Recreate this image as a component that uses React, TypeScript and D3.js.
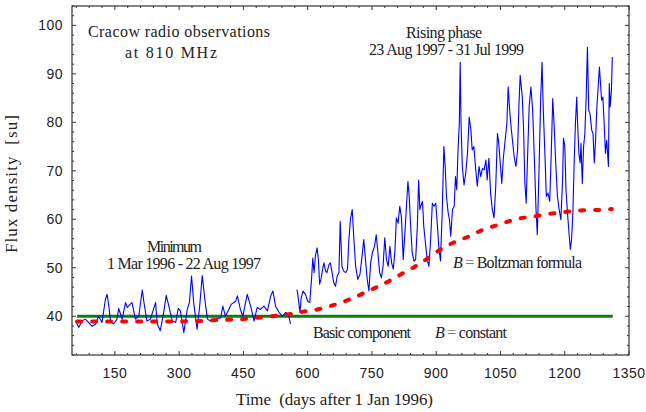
import * as d3 from 'd3';

// Cracow 810 MHz daily flux, [day after 1 Jan 1996, flux su]
const minimumPhase: [number, number][] = [
  [58, 39.0], [66, 37.7], [73, 39.0], [81, 39.4], [89, 38.7], [97, 37.9], [105, 38.4], [112, 40.0],
  [120, 38.7], [128, 43.5], [132, 44.5], [136, 42.1], [140, 39.0], [147, 38.4], [155, 39.4], [159, 41.6],
  [167, 39.4], [175, 42.8], [179, 41.8], [186, 42.5], [190, 42.8], [198, 39.4], [206, 40.1], [214, 45.4],
  [218, 42.8], [225, 39.0], [233, 39.4], [245, 42.8], [249, 38.4], [256, 37.0], [264, 40.8], [270, 44.3],
  [276, 42.1], [284, 39.0], [292, 38.7], [298, 41.6], [303, 41.1], [311, 36.6], [319, 41.4], [324, 42.8],
  [329, 48.3], [334, 42.8], [342, 37.3], [348, 42.1], [354, 48.4], [360, 43.5], [366, 39.4], [373, 39.0],
  [385, 39.4], [397, 39.7], [402, 42.1], [408, 40.0], [416, 41.4], [422, 42.5], [432, 43.1], [436, 44.2],
  [443, 41.4], [449, 40.0], [455, 42.8], [459, 44.5], [467, 42.1], [475, 39.0], [482, 41.8], [490, 41.4],
  [498, 42.1], [506, 41.1], [514, 44.2], [519, 45.2], [525, 42.1], [533, 40.8], [541, 40.0], [549, 40.8],
  [556, 40.0], [560, 38.4],
];

const risingPhase: [number, number][] = [
  [575, 45.5], [577, 44.5], [582, 40.8], [585, 43.8], [589, 45.2], [595, 44.5], [600, 43.1], [605, 42.8],
  [609, 47.6], [612, 52.0], [615, 49.0], [618, 52.4], [622, 54.1], [625, 51.7], [628, 46.6], [631, 47.6],
  [635, 49.7], [638, 51.0], [642, 49.3], [645, 49.0], [650, 50.7], [653, 51.0], [657, 49.0], [661, 46.9],
  [665, 46.2], [669, 48.3], [673, 49.0], [676, 59.6], [680, 50.3], [684, 49.3], [689, 49.0], [693, 49.7],
  [696, 55.5], [700, 60.1], [704, 62.0], [708, 55.8], [712, 50.3], [717, 47.6], [722, 48.6], [727, 52.4],
  [731, 55.8], [735, 51.7], [739, 47.6], [743, 45.2], [747, 51.0], [751, 53.1], [756, 54.4], [760, 56.8],
  [764, 53.1], [768, 49.0], [772, 47.9], [776, 50.3], [780, 56.2], [784, 51.7], [788, 50.3], [792, 54.4],
  [796, 51.0], [800, 49.7], [804, 53.8], [807, 60.3], [811, 59.2], [815, 62.7], [819, 60.3], [823, 51.7],
  [827, 57.2], [831, 63.3], [834, 67.8], [837, 64.7], [840, 59.2], [844, 53.1], [848, 51.4], [852, 51.7],
  [856, 58.5], [859, 68.1], [862, 62.0], [864, 62.7], [868, 63.7], [871, 58.5], [875, 55.1], [879, 51.7],
  [883, 50.3], [887, 55.8], [891, 63.3], [895, 62.7], [899, 63.3], [903, 58.5], [906, 54.4], [910, 51.4],
  [914, 61.3], [918, 75.0], [921, 70.9], [924, 64.7], [928, 61.3], [931, 59.9], [934, 56.5], [938, 62.0],
  [942, 62.7], [945, 68.8], [948, 66.1], [951, 74.3], [954, 79.8], [956, 92.4], [958, 79.8], [961, 70.9],
  [965, 67.1], [969, 69.5], [973, 73.6], [977, 81.1], [981, 78.4], [984, 74.3], [988, 75.0], [992, 70.5],
  [996, 66.8], [1000, 70.9], [1004, 68.8], [1008, 70.5], [1012, 70.2], [1016, 72.2], [1019, 68.1], [1023, 72.6],
  [1027, 65.4], [1031, 62.0], [1035, 60.3], [1039, 66.8], [1043, 77.7], [1046, 75.7], [1049, 72.2], [1053, 67.4],
  [1057, 72.9], [1061, 76.3], [1065, 79.8], [1068, 87.3], [1071, 83.2], [1074, 79.8], [1078, 76.3], [1082, 72.9],
  [1086, 70.9], [1090, 74.3], [1093, 83.2], [1096, 89.7], [1097, 88.7], [1101, 85.2], [1104, 78.4], [1107, 67.4],
  [1110, 63.3], [1113, 72.2], [1117, 83.2], [1121, 87.3], [1125, 82.8], [1129, 72.9], [1133, 62.0], [1136, 56.8],
  [1140, 70.2], [1144, 85.2], [1147, 92.4], [1150, 82.5], [1154, 72.9], [1157, 64.7], [1161, 65.4], [1165, 63.7],
  [1169, 75.0], [1172, 84.9], [1175, 79.8], [1179, 71.6], [1183, 64.7], [1187, 62.0], [1191, 59.9], [1195, 68.1],
  [1197, 76.7], [1200, 75.3], [1203, 66.1], [1207, 60.6], [1210, 57.2], [1213, 53.8], [1216, 55.8], [1219, 61.3],
  [1222, 71.6], [1225, 79.8], [1228, 85.2], [1230, 79.8], [1233, 73.6], [1236, 71.6], [1238, 75.7], [1241, 67.4],
  [1244, 75.0], [1247, 77.7], [1250, 85.2], [1253, 95.5], [1256, 82.5], [1259, 81.8], [1263, 78.4], [1266, 77.7],
  [1269, 71.6], [1272, 76.3], [1275, 83.2], [1278, 87.3], [1281, 91.4], [1283, 88.7], [1286, 84.6], [1289, 85.2],
  [1292, 79.8], [1295, 73.6], [1298, 76.3], [1302, 70.9], [1304, 88.0], [1306, 83.2], [1309, 86.6], [1311, 93.5],
];

// Boltzmann fit of the background
const boltzmannFit: [number, number][] = [
  [62, 38.9], [150, 38.9], [250, 38.9], [350, 39.0], [385, 39.2], [447, 39.4], [517, 40.0], [556, 40.4],
  [587, 40.9], [618, 41.3], [653, 42.1], [684, 43.0], [712, 44.0], [739, 45.1], [766, 46.2], [793, 47.4],
  [821, 48.8], [848, 50.1], [871, 51.4], [922, 54.4], [949, 55.5], [977, 56.5], [1008, 57.8], [1039, 58.7],
  [1070, 59.6], [1097, 60.2], [1129, 60.6], [1164, 61.1], [1199, 61.5], [1230, 61.8], [1265, 61.9], [1300, 62.0],
  [1310, 62.1],
];

const basicComponent: [number, number][] = [[62, 40], [1312, 40]];

const xTicks = [150, 300, 450, 600, 750, 900, 1050, 1200, 1350];
const yTicks = [40, 50, 60, 70, 80, 90, 100];
const xMinorStep = 30;
const yMinorStep = 2;

const W = 646;
const H = 412;
const margin = { top: 6, right: 17, bottom: 57, left: 72 };

const serif = '"Liberation Serif", "Times New Roman", serif';
const sans = '"Liberation Sans", Arial, sans-serif';

export default function App() {
  const x = d3.scaleLinear().domain([50, 1350]).range([margin.left, W - margin.right]);
  const y = d3.scaleLinear().domain([32, 104]).range([H - margin.bottom, margin.top]);
  const [x0, x1] = x.range();
  const [yb, yt] = y.range();

  const line = d3.line<[number, number]>()
    .x((d) => x(d[0]))
    .y((d) => y(d[1]));
  const smooth = d3.line<[number, number]>()
    .x((d) => x(d[0]))
    .y((d) => y(d[1]))
    .curve(d3.curveMonotoneX);

  const xMinor = d3.range(60, 1350, xMinorStep).filter((v) => !xTicks.includes(v));
  const yMinor = d3.range(32, 105, yMinorStep).filter((v) => !yTicks.includes(v));

  const tickColor = '#333';

  return (
    <svg width={W} height={H} style={{ position: 'absolute', left: 0, top: 0, background: '#fff' }}>
      {/* data */}
      <path d={line(basicComponent)!} fill="none" stroke="#0b800b" strokeWidth={3} />
      <path d={line(minimumPhase)!} fill="none" stroke="#0000ff" strokeWidth={1.1} strokeLinejoin="round" />
      <path d={line(risingPhase)!} fill="none" stroke="#0000ff" strokeWidth={1.1} strokeLinejoin="round" />
      <path
        d={smooth(boltzmannFit)!}
        fill="none"
        stroke="#ff0000"
        strokeWidth={4}
        strokeLinecap="round"
        strokeDasharray="4 11"
      />

      {/* frame + ticks */}
      <rect x={x0} y={yt} width={x1 - x0} height={yb - yt} fill="none" stroke={tickColor} strokeWidth={1.2} />
      {xTicks.map((t) => (
        <g key={'xt' + t} stroke={tickColor}>
          <line x1={x(t)} x2={x(t)} y1={yb} y2={yb - 4} />
          <line x1={x(t)} x2={x(t)} y1={yt} y2={yt + 4} />
        </g>
      ))}
      {xMinor.map((t) => (
        <g key={'xm' + t} stroke={tickColor}>
          <line x1={x(t)} x2={x(t)} y1={yb} y2={yb - 2} />
          <line x1={x(t)} x2={x(t)} y1={yt} y2={yt + 2} />
        </g>
      ))}
      {yTicks.map((t) => (
        <g key={'yt' + t} stroke={tickColor}>
          <line x1={x0} x2={x0 + 4} y1={y(t)} y2={y(t)} />
          <line x1={x1} x2={x1 - 4} y1={y(t)} y2={y(t)} />
        </g>
      ))}
      {yMinor.map((t) => (
        <g key={'ym' + t} stroke={tickColor}>
          <line x1={x0} x2={x0 + 2} y1={y(t)} y2={y(t)} />
          <line x1={x1} x2={x1 - 2} y1={y(t)} y2={y(t)} />
        </g>
      ))}

      {/* tick labels */}
      <g fontFamily={sans} fontSize={14} fill="#222" letterSpacing={0.5}>
        {xTicks.map((t) => (
          <text key={'xl' + t} x={x(t)} y={yb + 23} textAnchor="middle">{t}</text>
        ))}
        {yTicks.map((t) => (
          <text key={'yl' + t} x={x0 - 9} y={y(t)} dy="0.36em" textAnchor="end">{t}</text>
        ))}
      </g>

      {/* axis titles */}
      <text x={236} y={405} fontFamily={serif} fontSize={17} fill="#222" textLength={197} lengthAdjust="spacing" style={{ whiteSpace: 'pre' }}>
        {'Time  (days after 1 Jan 1996)'}
      </text>
      <text
        transform="translate(17,253) rotate(-90)"
        fontFamily={serif}
        fontSize={17}
        fill="#222"
        textLength={138}
        lengthAdjust="spacing"
        style={{ whiteSpace: 'pre' }}
      >
        {'Flux density  [su]'}
      </text>

      {/* annotations */}
      <g fontFamily={serif} fontSize={16} fill="#222" style={{ whiteSpace: 'pre' }}>
        <text x={88} y={37} textLength={182} lengthAdjust="spacing">Cracow radio observations</text>
        <text x={125} y={58} textLength={92} lengthAdjust="spacing">at 810 MHz</text>
        <text x={406} y={38} textLength={76} lengthAdjust="spacing">{'Rising  phase'}</text>
        <text x={369} y={55} textLength={155} lengthAdjust="spacing">23 Aug 1997 - 31 Jul 1999</text>
        <text x={147} y={252} textLength={55} lengthAdjust="spacing">Minimum</text>
        <text x={107} y={269} textLength={154} lengthAdjust="spacing">{'1 Mar  1996  -  22 Aug  1997'}</text>
        <text x={453} y={268} textLength={129} lengthAdjust="spacing">
          <tspan fontStyle="italic">B</tspan>
          <tspan fill="#777">{' = '}</tspan>
          <tspan>Boltzman formula</tspan>
        </text>
        <text x={313} y={338} textLength={98} lengthAdjust="spacing">Basic component</text>
        <text x={435} y={338} textLength={72} lengthAdjust="spacing">
          <tspan fontStyle="italic">B</tspan>
          <tspan fill="#777">{' = '}</tspan>
          <tspan>constant</tspan>
        </text>
      </g>
    </svg>
  );
}
